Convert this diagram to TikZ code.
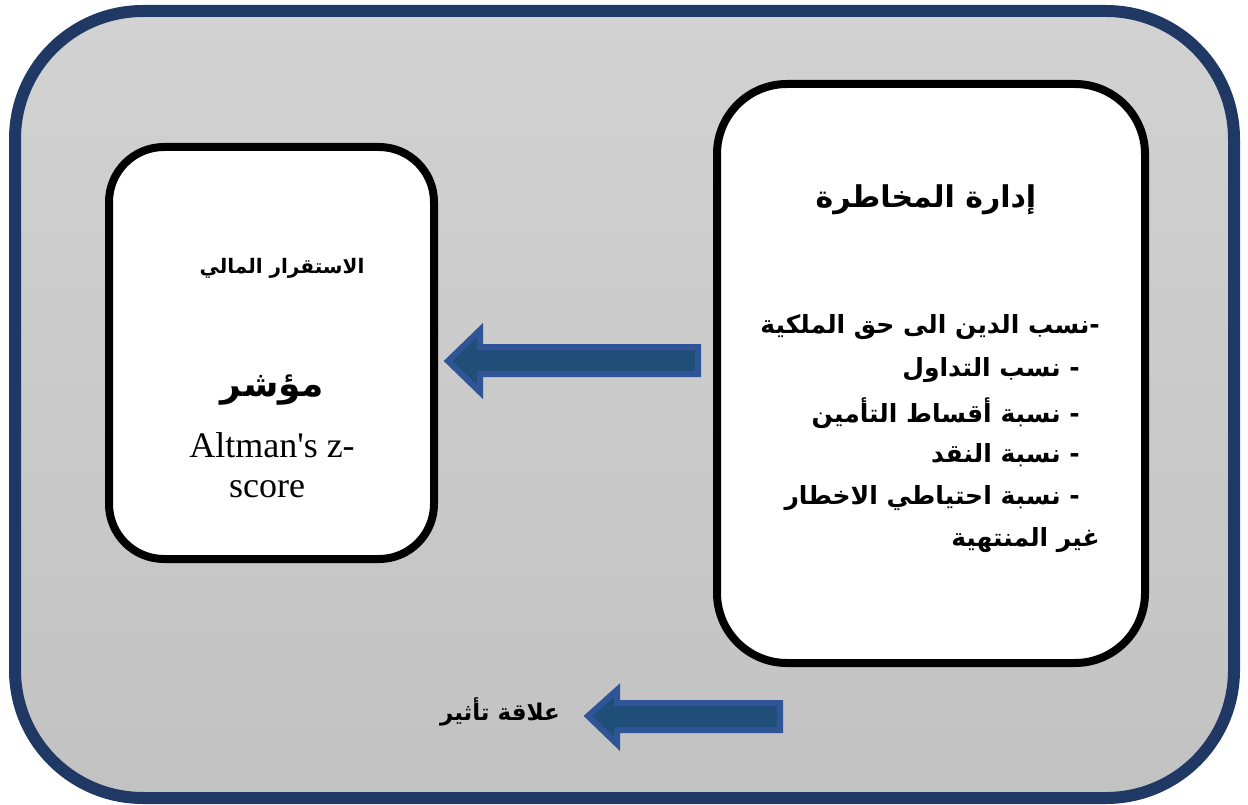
\documentclass[tikz,border=0pt]{standalone}
\usepackage{fontspec}
\newfontfamily\timesfont{Liberation Serif}
\newfontfamily\arfont[Script=Arabic]{DejaVu Sans}
\TeXXeTstate=1
\definecolor{frameblue}{HTML}{203864}
\definecolor{arrowedge}{HTML}{2F5597}
\definecolor{arrowfill}{HTML}{1F4E79}
\definecolor{paneltop}{HTML}{D2D2D2}
\definecolor{panelbottom}{HTML}{C2C2C2}
\begin{document}
\begin{tikzpicture}[x=1pt,y=-1pt,
  outerframe/.style={draw=frameblue,line width=12pt,rounded corners=128pt,
    top color=paneltop,bottom color=panelbottom},
  card/.style={draw=black,fill=white,line width=8pt},
  blockarrow/.style={draw=arrowedge,fill=arrowfill,line width=6pt,line join=miter},
  artext/.style={font=\arfont\bfseries\fontsize{25}{30}\selectfont,inner sep=0pt},
  lattext/.style={font=\timesfont\fontsize{36}{40}\selectfont,inner sep=0pt}]
\useasboundingbox (0,0) rectangle (1248,805);

% outer panel
\draw[outerframe] (15,11) rectangle (1234,798);

% the two cards
\draw[card,rounded corners=55pt] (109,147) rectangle (434,559);
\draw[card,rounded corners=70pt] (717,84) rectangle (1145,663);

% block arrows
\draw[blockarrow] (448,361) -- (480,330) -- (480,347) -- (698,347) -- (698,374)
  -- (480,374) -- (480,392) -- cycle;
\draw[blockarrow] (588,716) -- (617,690) -- (617,703) -- (780,703) -- (780,730)
  -- (617,730) -- (617,744) -- cycle;

% right card text
\node[artext,font=\arfont\bfseries\fontsize{30}{34}\selectfont] (rtitle) at (926,200) {\beginR إدارة المخاطرة\endR};
\node[artext,anchor=east] (r1) at (1100,327) {\beginR -نسب الدين الى حق الملكية\endR};
\node[artext,anchor=east] (r2) at (1080,370) {\beginR - نسب التداول\endR};
\node[artext,anchor=east] (r3) at (1080,413) {\beginR - نسبة أقساط التأمين\endR};
\node[artext,anchor=east] (r4) at (1080,455) {\beginR - نسبة النقد\endR};
\node[artext,anchor=east] (r5) at (1080,498) {\beginR - نسبة احتياطي الاخطار\endR};
\node[artext,anchor=east] (r6) at (1100,540) {\beginR غير المنتهية\endR};

% left card text
\node[artext,font=\arfont\bfseries\fontsize{20}{24}\selectfont] (ltitle) at (282,268) {\beginR الاستقرار المالي\endR};
\node[artext,font=\arfont\bfseries\fontsize{36}{40}\selectfont] (lind) at (272,390) {\beginR مؤشر\endR};
\node[lattext] (l1) at (272,445) {Altman's z-};
\node[lattext] (l2) at (267,489) {score};

% legend
\node[artext,font=\arfont\bfseries\fontsize{23}{26}\selectfont,anchor=east] (legend) at (560,712) {\beginR علاقة تأثير\endR};
\end{tikzpicture}
\end{document}
